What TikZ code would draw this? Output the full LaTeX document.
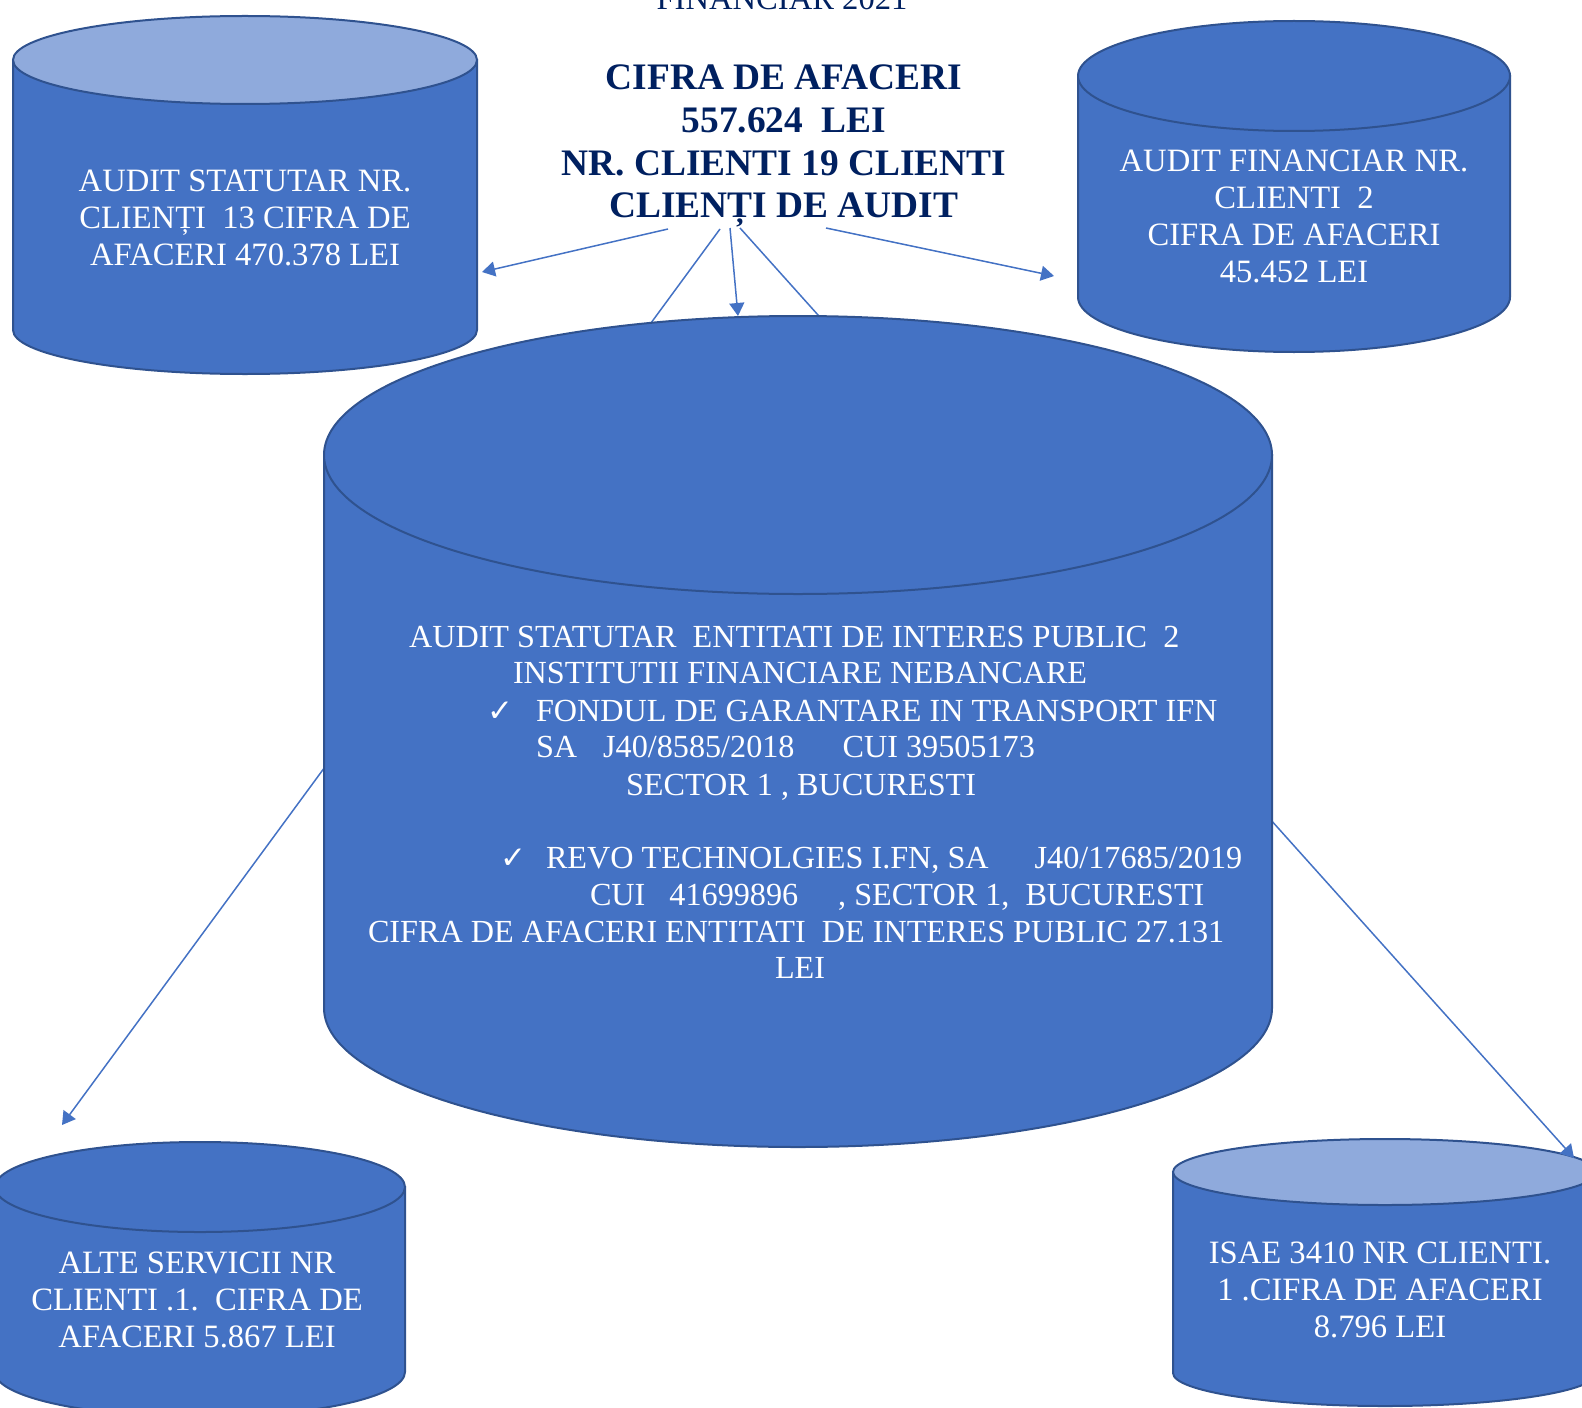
\documentclass[tikz,border=0pt]{standalone}
\usepackage{fontspec}
\setmainfont{Liberation Serif}
\newfontfamily\tickfont{DejaVu Sans}
\usetikzlibrary{arrows.meta}
\definecolor{drumblue}{HTML}{4472C4}
\definecolor{drumedge}{HTML}{2F528F}
\definecolor{drumlight}{HTML}{8FAADC}
\definecolor{headnavy}{HTML}{002060}
\tikzset{
	every node/.style={inner sep=0pt, outer sep=0pt},
	drumline/.style={draw=drumedge, line width=1pt},
	drumtext/.style={text=white, align=center, font=\fontsize{16.3}{18.5}\selectfont},
	rowtext/.style={text=white, anchor=base west, font=\fontsize{16.1}{18.5}\selectfont},
	tick/.style={text=white, anchor=base west, font=\tickfont\fontsize{15.5}{16}\selectfont},
	headtext/.style={text=headnavy, align=center, font=\bfseries\fontsize{18.7}{21.4}\selectfont},
	link/.style={draw=drumblue, line width=0.75pt, -{Triangle[length=6.5pt, width=7.5pt]}}
}
% cylinder: centre x, top y, bottom y, x radius, y radius, lid colour
\newcommand\drum[6]{%
	\path[drumline, fill=drumblue] (#1-#4,#2) -- (#1-#4,#3)
		arc[start angle=180, end angle=0, x radius=#4, y radius=#5] -- (#1+#4,#2) -- cycle;
	\path[drumline, fill=#6] (#1,#2) ellipse[x radius=#4, y radius=#5];
}

\begin{document}
\begin{tikzpicture}[x=0.5pt, y=-0.5pt]
	\useasboundingbox (0,0) rectangle (1582,1407);
	\clip (0,0) rectangle (1582,1407);

	% Title
	\node[text=headnavy, anchor=base, font=\fontsize{16.3}{18.5}\selectfont] (year) at (782,10) {FINANCIAR 2021};
	\node[headtext] (head) at (784,146) {CIFRA DE AFACERI\\557.624\ \ LEI\\NR. CLIENTI 19 CLIENTI\\CLIENȚI DE AUDIT};

	\coordinate (head_l) at (668,229);
	\coordinate (head_bl) at (720,229);
	\coordinate (head_m) at (730,228);
	\coordinate (head_br) at (740,228);
	\coordinate (head_r) at (826,228);

	\coordinate (stat_in) at (482,272);
	\coordinate (alte_in) at (62,1125);
	\coordinate (pie_in) at (738,316);
	\coordinate (isae_in) at (1574,1158);
	\coordinate (fin_in) at (1054,276);

	% bottom drums, their links pass behind the big one
	\drum{200}{1187}{1372}{205}{45}{drumblue}
	\drum{1385}{1172}{1373}{212}{33}{drumlight}
	\draw[link] (head_bl) -- (alte_in);
	\draw[link] (head_br) -- (isae_in);

	\drum{798}{455}{1008}{474}{139}{drumblue}
	\drum{245}{60}{330}{232}{44}{drumlight}
	\drum{1294}{76}{297}{216}{55}{drumblue}

	\draw[link] (head_l) -- (stat_in);
	\draw[link] (head_m) -- (pie_in);
	\draw[link] (head_r) -- (fin_in);

	% Texts
	\node[drumtext] (stat) at (245,218) {AUDIT STATUTAR NR.\\CLIENȚI\ \ 13 CIFRA DE\\AFACERI 470.378 LEI};
	\node[drumtext] (fin) at (1294,216) {AUDIT FINANCIAR NR.\\CLIENTI\ \ 2\\CIFRA DE AFACERI\\45.452 LEI};
	\node[drumtext] (alte) at (197,1300) {ALTE SERVICII NR\\CLIENTI .1.\ \ CIFRA DE\\AFACERI 5.867 LEI};
	\node[drumtext] (isae) at (1380,1290) {ISAE 3410 NR CLIENTI.\\1 .CIFRA DE AFACERI\\8.796 LEI};

	\node[rowtext] (pie_1) at (409,647) {AUDIT STATUTAR\ \ ENTITATI DE INTERES PUBLIC\ \ 2};
	\node[rowtext] (pie_2) at (513,683) {INSTITUTII FINANCIARE NEBANCARE};
	\node[tick] (tick_1) at (487,721) {✓};
	\node[rowtext] (pie_3) at (536,721) {FONDUL DE GARANTARE IN TRANSPORT IFN};
	\node[rowtext] (pie_4) at (536,757) {SA\hspace{13pt}J40/8585/2018\hspace{24pt}CUI 39505173};
	\node[rowtext] (pie_5) at (626,795) {SECTOR 1 , BUCURESTI};
	\node[tick] (tick_2) at (500,868) {✓};
	\node[rowtext] (pie_6) at (546,868) {REVO TECHNOLGIES I.FN, SA\hspace{23pt}J40/17685/2019};
	\node[rowtext] (pie_7) at (590,905) {CUI\hspace{12pt}41699896\hspace{20pt}, SECTOR 1,\ \ BUCURESTI};
	\node[rowtext] (pie_8) at (368,942) {CIFRA DE AFACERI ENTITATI\ \ DE INTERES PUBLIC 27.131};
	\node[rowtext] (pie_9) at (775,978) {LEI};
\end{tikzpicture}
\end{document}
